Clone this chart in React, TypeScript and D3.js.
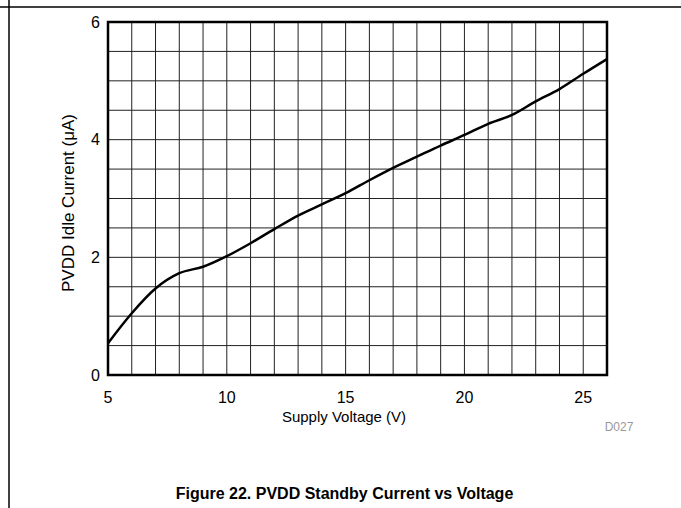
import React from "react";
import * as d3 from "d3";

const voltages = [5, 6, 7, 8, 9, 10, 11, 12, 13, 14, 15, 16, 17, 18, 19, 20, 21, 22, 23, 24, 25, 26];
const currents = [0.54, 1.05, 1.47, 1.73, 1.84, 2.02, 2.24, 2.48, 2.71, 2.9, 3.09, 3.31, 3.52, 3.71, 3.9, 4.08, 4.27, 4.42, 4.65, 4.86, 5.12, 5.37];
const xTicks = [5, 10, 15, 20, 25];
const yTicks = [0, 2, 4, 6];
const xGrid = d3.range(5, 27, 1);
const yGrid = d3.range(0, 6.01, 0.5);

const W = 681, H = 508;
const L = 108, R = 607, T = 22, B = 375;

export default function App() {
  const x = d3.scaleLinear().domain([5, 26]).range([L, R]);
  const y = d3.scaleLinear().domain([0, 6]).range([B, T]);
  const line = d3.line<number>().x((d, i) => x(voltages[i])).y((d) => y(d)).curve(d3.curveMonotoneX);
  const font = "'Liberation Sans', Arial, sans-serif";
  return (
    <svg width={W} height={H} style={{ position: "absolute", left: 0, top: 0, background: "#fff" }} fontFamily={font}>
      <line x1={0} x2={W} y1={7} y2={7} stroke="#000" strokeWidth={1.5} />
      <line x1={9} x2={9} y1={0} y2={H} stroke="#000" strokeWidth={1.5} />
      {xGrid.map((v) => (
        <line key={"gx" + v} x1={x(v)} x2={x(v)} y1={T} y2={B} stroke="#222" strokeWidth={1} />
      ))}
      {yGrid.map((v) => (
        <line key={"gy" + v} x1={L} x2={R} y1={y(v)} y2={y(v)} stroke="#222" strokeWidth={1} />
      ))}
      <rect x={L} y={T} width={R - L} height={B - T} fill="none" stroke="#000" strokeWidth={2.5} />
      <path d={line(currents) || ""} fill="none" stroke="#000" strokeWidth={2.5} />
      {yTicks.map((v) => (
        <text key={"yt" + v} x={L - 8} y={y(v)} dy="0.35em" textAnchor="end" fontSize={16} fill="#000">{v}</text>
      ))}
      {xTicks.map((v) => (
        <text key={"xt" + v} x={x(v)} y={B + 28} textAnchor="middle" fontSize={16} fill="#000">{v}</text>
      ))}
      <text x={344} y={B + 47} textAnchor="middle" fontSize={15} fill="#000">Supply Voltage (V)</text>
      <text transform={`translate(74, 203) rotate(-90)`} textAnchor="middle" fontSize={17} fill="#000">PVDD Idle Current (μA)</text>
      <text x={619} y={431} textAnchor="middle" fontSize={12} fill="#999">D027</text>
      <text x={344.5} y={499} textAnchor="middle" fontSize={16} fontWeight="bold" fill="#000">Figure 22. PVDD Standby Current vs Voltage</text>
    </svg>
  );
}
